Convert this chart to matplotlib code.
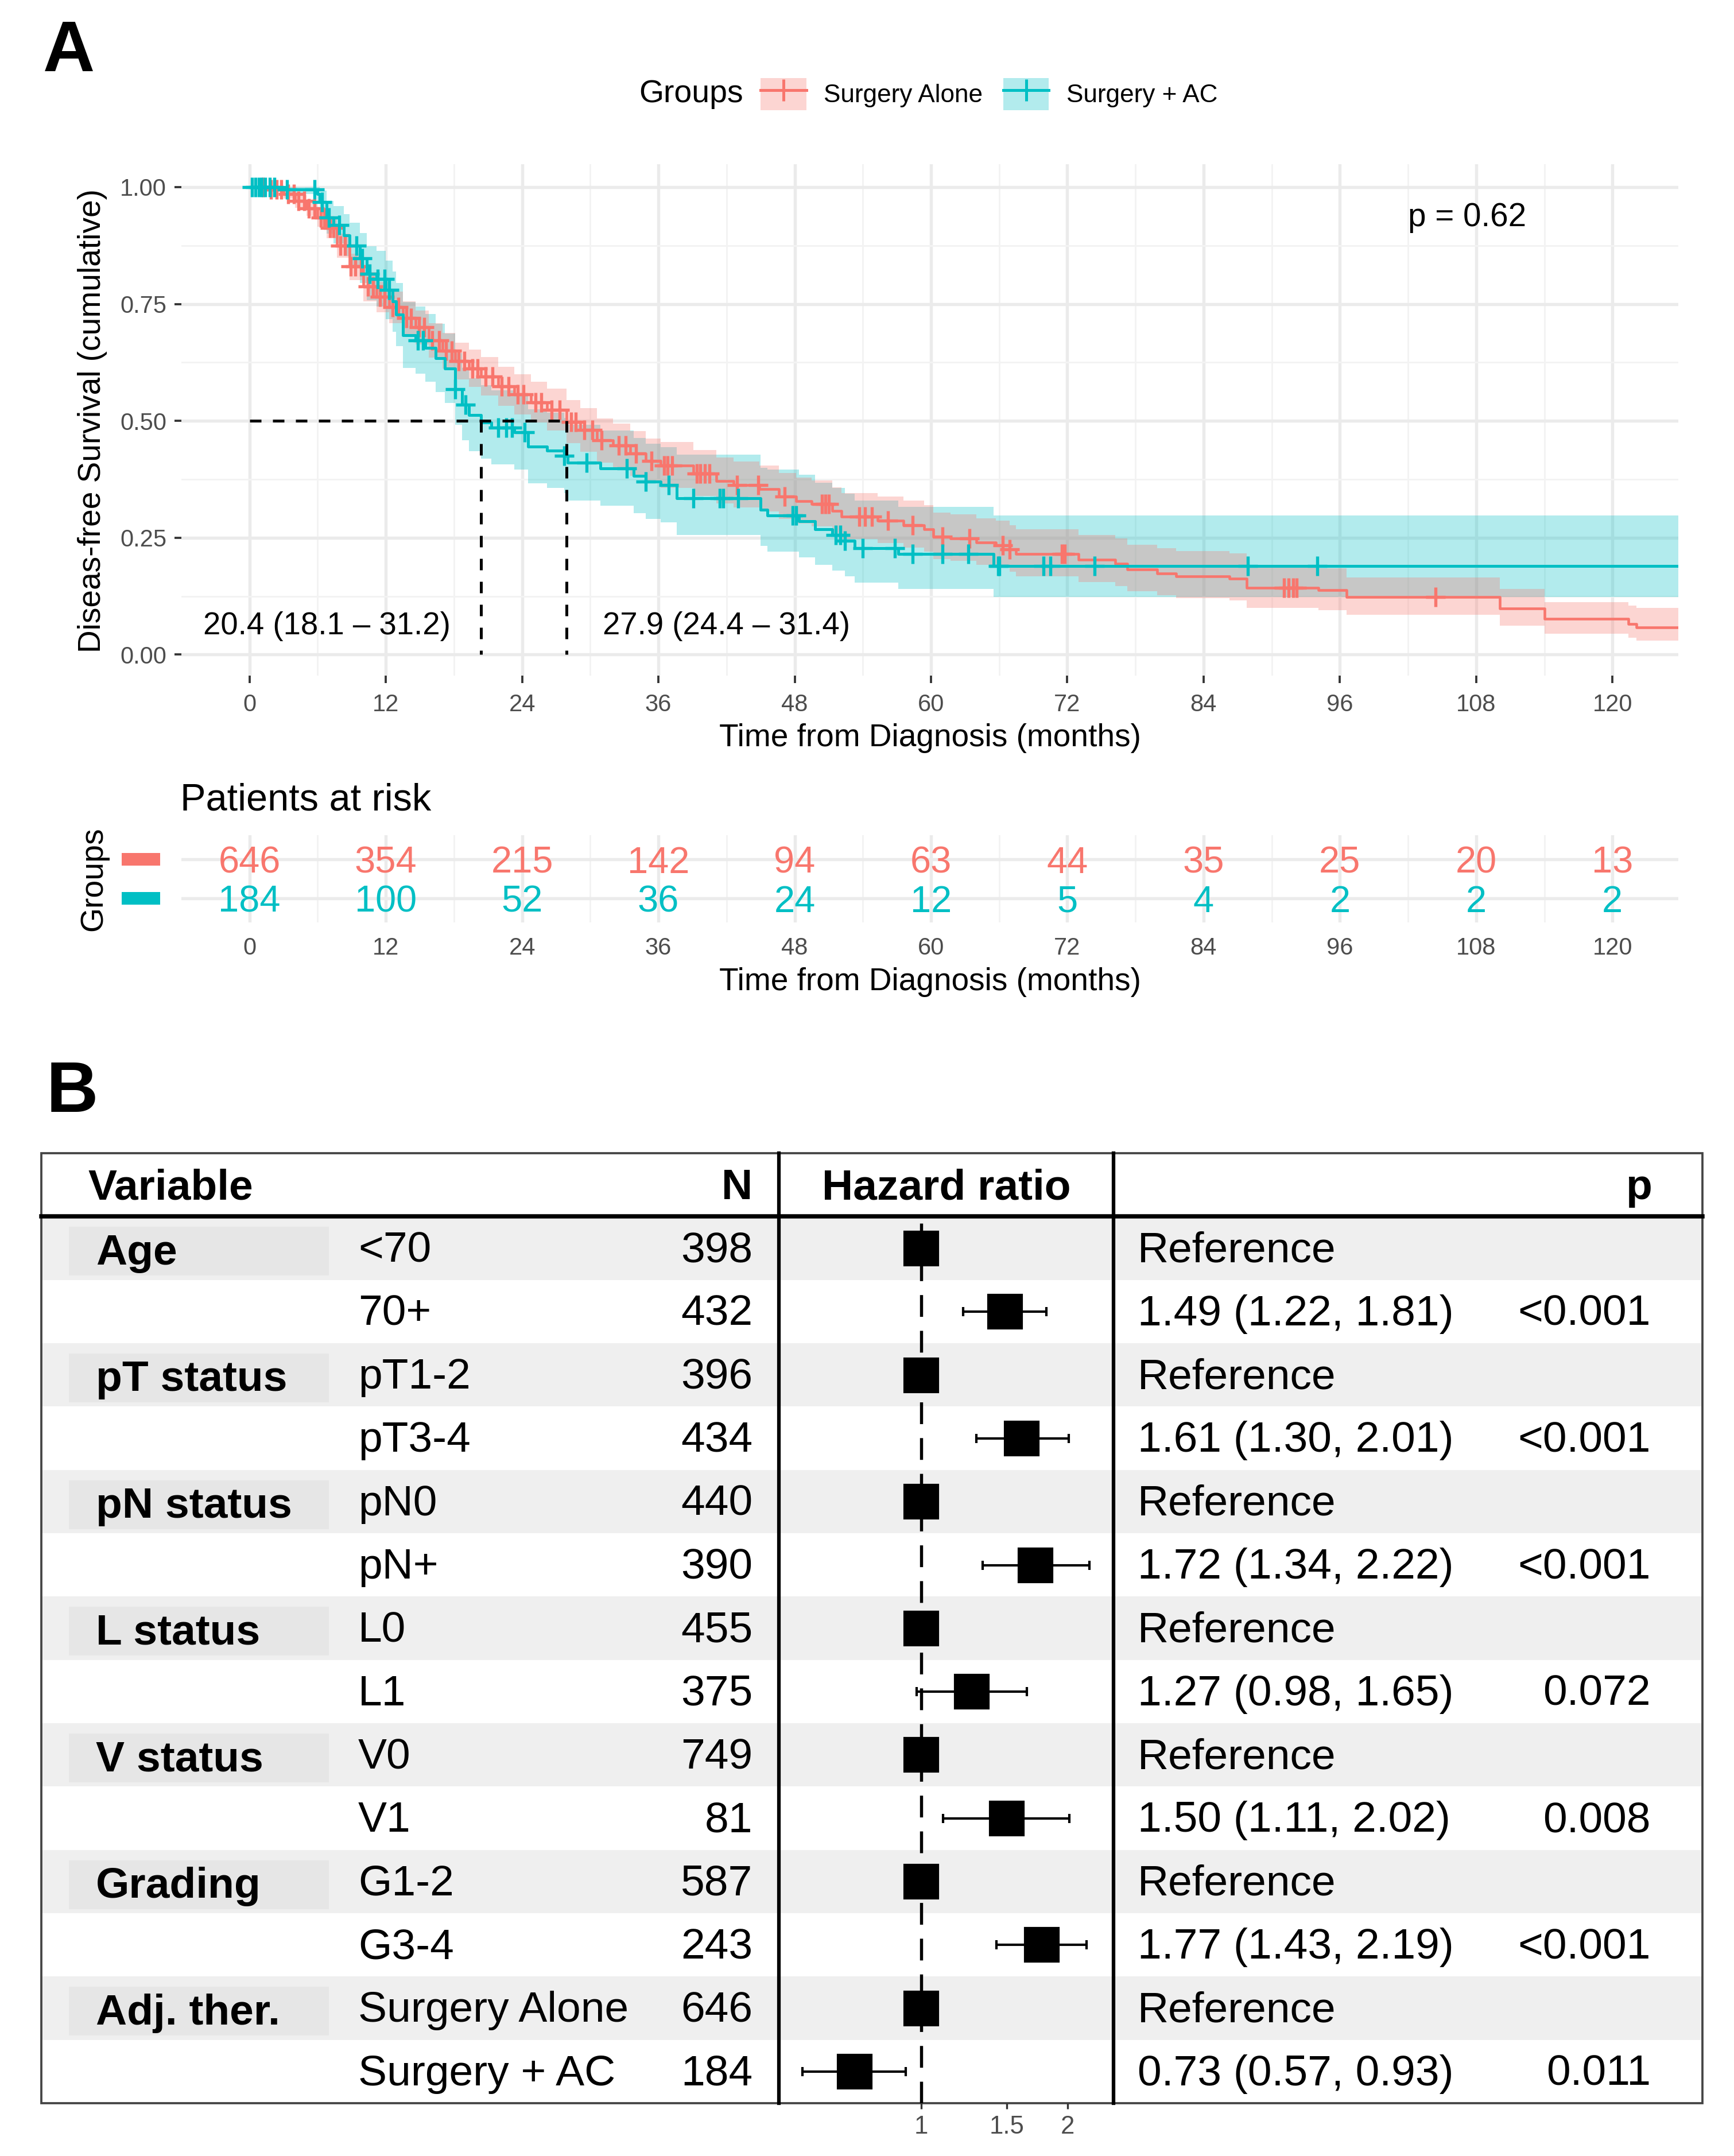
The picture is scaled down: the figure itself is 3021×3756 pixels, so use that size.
import numpy as np
import matplotlib
matplotlib.use("Agg")
from matplotlib import pyplot as plt
from matplotlib.lines import Line2D
from matplotlib.patches import Patch, Rectangle
from matplotlib.ticker import FixedLocator, NullLocator
import matplotlib.transforms as mtransforms

plt.rcParams['font.family'] = ['Liberation Sans', 'DejaVu Sans']

W, H = 3021, 3756
RED = '#F8766D'
TEAL = '#00BFC4'
GRAY_TXT = '#4D4D4D'

# ---- Kaplan-Meier estimates ----
alone_t = [0, 1.5, 3.0, 4.0, 5.0, 6.0, 6.8, 7.7, 8.8, 10.0, 11.2, 12.3, 13.5, 14.6, 15.8,
           17.0, 18.1, 19.3, 20.4, 21.9, 23.3, 24.8, 26.2, 27.9, 29.1, 30.6, 32.0, 33.5,
           34.9, 36.2, 39.1, 41.1, 42.6, 44.9, 46.6, 48.1, 49.5, 51.3, 52.1, 55.3, 57.6,
           59.4, 60.2, 61.7, 64.0, 65.7, 66.9, 67.5, 73.0, 76.2, 77.3, 79.9, 81.6, 86.3,
           87.8, 94.1, 96.6, 110.1, 114.0, 121.4, 122.1, 125.8]
alone_s = [1.000, 0.995, 0.985, 0.970, 0.955, 0.935, 0.913, 0.875, 0.830, 0.787, 0.765, 0.743,
           0.720, 0.700, 0.672, 0.650, 0.628, 0.612, 0.595, 0.574, 0.557, 0.540, 0.524, 0.498,
           0.480, 0.458, 0.447, 0.430, 0.414, 0.405, 0.387, 0.371, 0.363, 0.354, 0.338, 0.328,
           0.322, 0.307, 0.295, 0.287, 0.277, 0.268, 0.252, 0.248, 0.240, 0.234, 0.225, 0.215,
           0.203, 0.195, 0.182, 0.174, 0.168, 0.163, 0.143, 0.138, 0.123, 0.099, 0.076, 0.066,
           0.058, 0.058]
alone_lo = [1.000, 0.990, 0.975, 0.956, 0.938, 0.915, 0.890, 0.849, 0.801, 0.755, 0.732, 0.709,
            0.685, 0.664, 0.635, 0.612, 0.589, 0.572, 0.554, 0.532, 0.514, 0.496, 0.479, 0.452,
            0.434, 0.411, 0.400, 0.382, 0.366, 0.357, 0.339, 0.323, 0.315, 0.306, 0.290, 0.280,
            0.274, 0.259, 0.247, 0.239, 0.229, 0.220, 0.204, 0.200, 0.192, 0.186, 0.177, 0.167,
            0.155, 0.147, 0.135, 0.127, 0.121, 0.116, 0.100, 0.095, 0.085, 0.062, 0.045, 0.036,
            0.030, 0.030]
alone_hi = [1.000, 1.000, 0.994, 0.983, 0.971, 0.954, 0.935, 0.900, 0.858, 0.818, 0.797, 0.777,
            0.755, 0.736, 0.709, 0.688, 0.667, 0.652, 0.636, 0.616, 0.600, 0.584, 0.569, 0.544,
            0.527, 0.505, 0.494, 0.478, 0.462, 0.455, 0.437, 0.421, 0.413, 0.404, 0.389, 0.379,
            0.373, 0.358, 0.346, 0.338, 0.329, 0.320, 0.304, 0.300, 0.292, 0.286, 0.277, 0.268,
            0.256, 0.248, 0.235, 0.227, 0.221, 0.216, 0.190, 0.185, 0.165, 0.140, 0.112, 0.105,
            0.100, 0.100]
alone_cens = [1.2, 1.9, 2.4, 2.8, 3.4, 3.9, 4.3, 4.8, 5.2, 5.7, 6.3, 6.6, 7.1, 7.4, 8.0, 8.4,
              8.9, 9.3, 9.8, 10.4, 10.9, 11.5, 11.9, 12.6, 13.1, 13.8, 14.2, 14.9, 15.4, 16.1,
              16.7, 17.3, 17.8, 18.4, 18.9, 19.6, 20.1, 20.8, 21.4, 22.2, 22.8, 23.6, 24.1,
              25.2, 25.7, 26.6, 27.3, 28.3, 28.7, 29.5, 30.2, 31.0, 32.5, 33.1, 34.0, 35.4,
              36.5, 36.8, 37.2, 39.4, 39.7, 40.1, 40.5, 42.9, 44.8, 47.1, 50.4, 50.7, 51.0,
              53.7, 54.2, 54.8, 56.2, 58.4, 61.0, 63.4, 66.3, 66.9, 71.5, 71.8, 91.1, 91.5,
              91.9, 92.2, 104.4]

ac_t = [0, 3.3, 6.0, 6.2, 6.8, 7.4, 8.3, 8.8, 9.7, 10.3, 11.2, 12.0, 12.6, 12.9, 13.5, 14.6,
        15.5, 16.4, 17.2, 18.1, 18.7, 19.3, 20.4, 21.3, 23.3, 24.5, 26.2, 27.7, 28.0, 30.9,
        33.8, 34.9, 36.2, 37.6, 45.0, 45.6, 48.4, 49.8, 51.3, 52.4, 53.3, 57.1, 65.5, 125.8]
ac_s = [1.000, 0.995, 0.985, 0.968, 0.935, 0.919, 0.897, 0.875, 0.848, 0.815, 0.804, 0.780,
        0.755, 0.727, 0.683, 0.672, 0.656, 0.634, 0.612, 0.568, 0.535, 0.513, 0.497, 0.486,
        0.475, 0.445, 0.436, 0.425, 0.410, 0.398, 0.382, 0.370, 0.363, 0.334, 0.310, 0.297,
        0.285, 0.268, 0.256, 0.244, 0.228, 0.215, 0.190, 0.190]
ac_lo = [1.000, 0.985, 0.967, 0.943, 0.900, 0.880, 0.853, 0.827, 0.795, 0.758, 0.745, 0.718,
         0.690, 0.660, 0.613, 0.601, 0.584, 0.561, 0.538, 0.492, 0.458, 0.435, 0.419, 0.407,
         0.396, 0.366, 0.356, 0.345, 0.330, 0.318, 0.302, 0.290, 0.283, 0.256, 0.232, 0.220,
         0.208, 0.192, 0.180, 0.168, 0.154, 0.141, 0.123, 0.123]
ac_hi = [1.000, 1.000, 1.000, 0.993, 0.971, 0.959, 0.942, 0.924, 0.902, 0.873, 0.864, 0.843,
         0.820, 0.795, 0.754, 0.744, 0.729, 0.708, 0.687, 0.645, 0.613, 0.591, 0.576, 0.565,
         0.555, 0.525, 0.517, 0.506, 0.491, 0.479, 0.463, 0.451, 0.444, 0.428, 0.400, 0.396,
         0.385, 0.368, 0.356, 0.344, 0.330, 0.316, 0.297, 0.297]
ac_cens = [0.2, 0.5, 0.8, 1.1, 1.4, 1.8, 2.2, 3.3, 5.7, 6.4, 7.0, 7.9, 9.4, 9.9, 10.6, 11.3,
           11.9, 12.3, 14.8, 15.3, 18.1, 19.0, 21.9, 22.6, 23.1, 24.2, 27.7, 29.7, 33.2, 34.9,
           36.9, 39.1, 41.4, 41.7, 43.0, 47.8, 48.1, 51.6, 52.0, 52.4, 54.0, 56.8, 58.4, 61.0,
           63.3, 65.9, 66.0, 69.9, 70.5, 74.4, 87.9, 94.0]

group_names = ['Surgery Alone', 'Surgery + AC']
medians = [27.9, 20.4]
median_ci = [(24.4, 31.4), (18.1, 31.2)]
p_logrank = '0.62'

risk_times = [0, 12, 24, 36, 48, 60, 72, 84, 96, 108, 120]
alone_risk = [646, 354, 215, 142, 94, 63, 44, 35, 25, 20, 13]
ac_risk = [184, 100, 52, 36, 24, 12, 5, 4, 2, 2, 2]

# ---- Cox model table ----
variables = ['Age', 'pT status', 'pN status', 'L status', 'V status', 'Grading', 'Adj. ther.']
levels = ['<70', '70+', 'pT1-2', 'pT3-4', 'pN0', 'pN+', 'L0', 'L1', 'V0', 'V1',
          'G1-2', 'G3-4', 'Surgery Alone', 'Surgery + AC']
n_obs = [398, 432, 396, 434, 440, 390, 455, 375, 749, 81, 587, 243, 646, 184]
hr = [1, 1.49, 1, 1.61, 1, 1.72, 1, 1.27, 1, 1.50, 1, 1.77, 1, 0.73]
hr_lo = [1, 1.22, 1, 1.30, 1, 1.34, 1, 0.98, 1, 1.11, 1, 1.43, 1, 0.57]
hr_hi = [1, 1.81, 1, 2.01, 1, 2.22, 1, 1.65, 1, 2.02, 1, 2.19, 1, 0.93]
p_vals = ['', '<0.001', '', '<0.001', '', '<0.001', '', '0.072', '', '0.008',
          '', '<0.001', '', '0.011']


def step_value(t_arr, s_arr, times):
    idx = np.searchsorted(t_arr, times, side='right') - 1
    return np.asarray(s_arr)[idx]


def fx(px):
    return px / W


def fy(py):
    return 1 - py / H


fig = plt.figure(figsize=(W / 300, H / 300), dpi=300)

# ================= Panel A: survival curves =================
ax = fig.add_axes([fx(316), fy(1177), (2924 - 316) / W, (1177 - 286) / H])
ax.set_xlim(-6.0, 125.8)
ax.set_ylim(-0.045, 1.049)

ax.fill_between(ac_t, ac_lo, ac_hi, step='post', color=TEAL, alpha=0.3, lw=0, zorder=2)
ax.fill_between(alone_t, alone_lo, alone_hi, step='post', color=RED, alpha=0.3, lw=0, zorder=2)
ax.step(alone_t, alone_s, where='post', color=RED, lw=1.1, zorder=3)
ax.step(ac_t, ac_s, where='post', color=TEAL, lw=1.2, zorder=4)
ax.plot(alone_cens, step_value(alone_t, alone_s, alone_cens), ls='none', marker='+',
        ms=8, mew=1.3, color=RED, zorder=3)
ax.plot(ac_cens, step_value(ac_t, ac_s, ac_cens), ls='none', marker='+',
        ms=8, mew=1.3, color=TEAL, zorder=4)

# median survival guides
ax.plot([0, max(medians)], [0.5, 0.5], color='black', lw=1.2, ls=(0, (4, 4)), zorder=5)
for m in medians:
    ax.plot([m, m], [0.5, 0], color='black', lw=1.2, ls=(0, (4, 4)), zorder=5)

ax.text(6.8, 0.061, f"{medians[1]} ({median_ci[1][0]} \u2013 {median_ci[1][1]})",
        ha='center', va='center', fontsize=13.1)
ax.text(42.0, 0.061, f"{medians[0]} ({median_ci[0][0]} \u2013 {median_ci[0][1]})",
        ha='center', va='center', fontsize=13.1)
ax.text(102, 0.935, f"p = {p_logrank}", ha='left', va='center', fontsize=13.6)

ax.set_xticks(risk_times)
ax.xaxis.set_minor_locator(FixedLocator([6, 18, 30, 42, 54, 66, 78, 90, 102, 114]))
ax.set_yticks([0, 0.25, 0.5, 0.75, 1.0])
ax.set_yticklabels(['0.00', '0.25', '0.50', '0.75', '1.00'])
ax.yaxis.set_minor_locator(FixedLocator([0.125, 0.375, 0.625, 0.875]))
ax.grid(which='major', color='#EBEBEB', lw=1.3, zorder=0)
ax.grid(which='minor', color='#F3F3F3', lw=0.7, zorder=0)
ax.set_axisbelow(True)
for sp in ax.spines.values():
    sp.set_visible(False)
ax.tick_params(which='major', length=3, width=0.9, color='#333333',
               labelsize=10, labelcolor=GRAY_TXT)
ax.tick_params(axis='x', pad=4.4)
ax.tick_params(axis='y', pad=3.2)
ax.tick_params(which='minor', length=0)

fig.text(fx(161), fy(733), 'Diseas-free Survival (cumulative)', rotation=90,
         ha='center', va='center', fontsize=13.2)
fig.text(fx(1620), fy(1286), 'Time from Diagnosis (months)', ha='center', va='center',
         fontsize=13.2)

# legend
handles = [
    (Patch(facecolor=RED, alpha=0.3, edgecolor='none'),
     Line2D([], [], color=RED, lw=1.2, marker='+', ms=9, mew=1.2)),
    (Patch(facecolor=TEAL, alpha=0.3, edgecolor='none'),
     Line2D([], [], color=TEAL, lw=1.2, marker='+', ms=9, mew=1.2)),
]
fig.text(fx(1113), fy(164), 'Groups', ha='left', va='center', fontsize=13.3)
fig.legend(handles, group_names, loc='center left', bbox_to_anchor=(fx(1325), fy(164)),
           ncol=2, frameon=False, fontsize=10.6, handlelength=1.8, handleheight=1.6,
           handletextpad=0.7, columnspacing=0.8, borderpad=0, borderaxespad=0)

fig.text(fx(75), fy(124), 'A', ha='left', va='baseline', fontsize=30, fontweight='bold')

# ================= Risk table =================
ax_r = fig.add_axes([fx(316), fy(1607), (2924 - 316) / W, (1607 - 1455) / H])
ax_r.set_xlim(-6.0, 125.8)
ax_r.set_ylim(-0.62, 1.62)
for t, a, b in zip(risk_times, alone_risk, ac_risk):
    ax_r.text(t, 1 - 0.1, str(a), color=RED, ha='center', va='center', fontsize=15.6)
    ax_r.text(t, 0 - 0.1, str(b), color=TEAL, ha='center', va='center', fontsize=15.6)
ax_r.set_xticks(risk_times)
ax_r.xaxis.set_minor_locator(FixedLocator([6, 18, 30, 42, 54, 66, 78, 90, 102, 114]))
ax_r.set_yticks([0, 1])
ax_r.set_yticklabels([])
ax_r.grid(which='major', color='#EBEBEB', lw=1.3)
ax_r.grid(which='minor', axis='x', color='#F3F3F3', lw=0.7)
ax_r.set_axisbelow(True)
for sp in ax_r.spines.values():
    sp.set_visible(False)
ax_r.tick_params(which='both', length=0, labelsize=10, labelcolor=GRAY_TXT)
ax_r.tick_params(axis='x', pad=6)
key_tf = mtransforms.blended_transform_factory(ax_r.transAxes, ax_r.transData)
for yrow, col in [(1, RED), (0, TEAL)]:
    ax_r.add_patch(Rectangle((-0.0399, yrow - 0.165), 0.0257, 0.33, transform=key_tf,
                             facecolor=col, edgecolor='none', clip_on=False))

fig.text(fx(314), fy(1394), 'Patients at risk', ha='left', va='center', fontsize=16)
fig.text(fx(163), fy(1531), 'Groups', rotation=90, ha='center', va='center', fontsize=13.3)
fig.text(fx(1620), fy(1711), 'Time from Diagnosis (months)', ha='center', va='center',
         fontsize=13.2)

# ================= Panel B: hazard ratio table =================
fig.text(fx(81), fy(1937), 'B', ha='left', va='baseline', fontsize=30, fontweight='bold')

TL, TR = 72, 2966
ax_t = fig.add_axes([fx(TL), fy(3664), (TR - TL) / W, (3664 - 2009) / H])
ax_t.set_xlim(TL, TR)
ax_t.set_ylim(13.5, -1.5)
ax_t.axis('off')

nrow = len(levels)
for i in range(0, nrow, 2):
    ax_t.add_patch(Rectangle((TL, i - 0.5), TR - TL, 1, facecolor='#EFEFEF',
                             edgecolor='none', zorder=0))
    ax_t.add_patch(Rectangle((120, i - 0.337), 453, 0.77, facecolor='#E6E6E6',
                             edgecolor='none', zorder=1))
    ax_t.text(167, i + 0.08, variables[i // 2], ha='left', va='center', fontsize=18,
              fontweight='bold', zorder=2)

fs = 18
for i in range(nrow):
    yt = i + 0.04
    ax_t.text(624, yt, levels[i], ha='left', va='center', fontsize=fs, zorder=2)
    ax_t.text(1311, yt, str(n_obs[i]), ha='right', va='center', fontsize=fs, zorder=2)
    if hr_lo[i] == hr_hi[i]:
        est = 'Reference'
    else:
        est = f"{hr[i]:.2f} ({hr_lo[i]:.2f}, {hr_hi[i]:.2f})"
    ax_t.text(1982, yt, est, ha='left', va='center', fontsize=fs, zorder=2)
    ax_t.text(2876, yt, p_vals[i], ha='right', va='center', fontsize=fs, zorder=2)

hy = -1 + 0.05
ax_t.text(153, hy, 'Variable', ha='left', va='center', fontsize=fs, fontweight='bold')
ax_t.text(1311, hy, 'N', ha='right', va='center', fontsize=fs, fontweight='bold')
ax_t.text(1649, hy, 'Hazard ratio', ha='center', va='center', fontsize=fs, fontweight='bold')
ax_t.text(2878, hy, 'p', ha='right', va='center', fontsize=fs, fontweight='bold')

ax_t.add_patch(Rectangle((TL, -1.5), TR - TL, 15, fill=False, edgecolor='#444444',
                         lw=0.9, zorder=5, clip_on=False))
ax_t.plot([TL, TR], [-0.5, -0.5], color='black', lw=1.8, zorder=5, clip_on=False)
for xv in (1357, 1940):
    ax_t.plot([xv, xv], [-1.5, 13.5], color='black', lw=1.5, zorder=5, clip_on=False)

# forest plot column
ax_f = fig.add_axes([fx(1359), fy(3664), (1939 - 1359) / W, (3664 - 2120) / H])
ax_f.set_facecolor('none')
ax_f.set_xscale('log')
ax_f.set_xlim(0.513, 2.48)
ax_f.set_ylim(nrow - 0.5, -0.5)
rows = np.arange(nrow)
hr_a = np.array(hr)
xerr = [hr_a - np.array(hr_lo), np.array(hr_hi) - hr_a]
ax_f.axvline(1, color='black', lw=1.3, ls=(0, (7, 4.5)), zorder=1)
ax_f.errorbar(hr, rows, xerr=xerr, fmt='none', ecolor='black', elinewidth=1.0,
              capsize=2.0, capthick=1.0, zorder=2)
ax_f.plot(hr, rows, ls='none', marker='s', ms=14, color='black', zorder=3)
for sp in ax_f.spines.values():
    sp.set_visible(False)
ax_f.set_yticks([])
ax_f.xaxis.set_minor_locator(NullLocator())
ax_f.set_xticks([1, 1.5, 2])
ax_f.set_xticklabels(['1', '1.5', '2'])
ax_f.tick_params(axis='x', length=2.5, width=0.8, color='#333333', labelsize=10.5,
                 labelcolor=GRAY_TXT, pad=2.5)

fig.savefig('out.png', dpi=300)
